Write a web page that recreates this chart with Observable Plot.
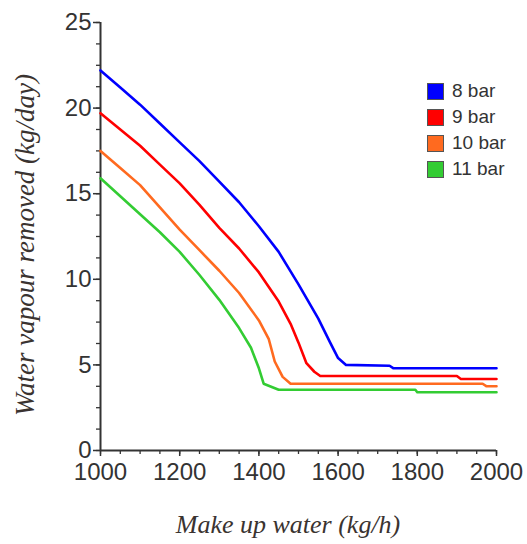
<!DOCTYPE html>
<html>
<head>
<meta charset="utf-8">
<script src="https://cdn.jsdelivr.net/npm/d3@7"></script>
<script src="https://cdn.jsdelivr.net/npm/@observablehq/plot@0.6"></script>
<style>
  html, body { margin: 0; padding: 0; background: #fff; }
  #wrap { position: relative; width: 527px; height: 544px; }
  #legend { position: absolute; left: 427px; top: 78px; font-family: "Liberation Sans", Arial, sans-serif; font-size: 19px; color: #333; }
  .row { display: flex; align-items: center; height: 26px; }
  .sw { width: 15px; height: 15px; border: 1.5px solid #555; margin-right: 8px; box-sizing: content-box; }
</style>
</head>
<body>
<div id="wrap"><div id="legend"></div></div>
<script>
const seriesNames = ["8 bar", "9 bar", "10 bar", "11 bar"];
const seriesColors = ["#0000ff", "#ff0000", "#ff6a1f", "#33cc33"];

const makeUp8  = [1000, 1050, 1100, 1150, 1200, 1250, 1300, 1350, 1400, 1450, 1500, 1550, 1580, 1600, 1620, 1730, 1740, 2000];
const vapour8  = [22.2, 21.2, 20.2, 19.1, 18.0, 16.9, 15.7, 14.5, 13.1, 11.6, 9.7, 7.7, 6.3, 5.4, 5.0, 4.95, 4.8, 4.8];
const makeUp9  = [1000, 1050, 1100, 1150, 1200, 1250, 1300, 1350, 1400, 1450, 1480, 1500, 1520, 1540, 1555, 1900, 1910, 2000];
const vapour9  = [19.7, 18.75, 17.8, 16.7, 15.6, 14.35, 13.0, 11.8, 10.4, 8.7, 7.4, 6.3, 5.1, 4.6, 4.35, 4.35, 4.18, 4.18];
const makeUp10 = [1000, 1050, 1100, 1150, 1200, 1250, 1300, 1350, 1400, 1425, 1440, 1460, 1480, 1965, 1975, 2000];
const vapour10 = [17.5, 16.5, 15.5, 14.2, 12.9, 11.7, 10.5, 9.2, 7.6, 6.5, 5.2, 4.3, 3.9, 3.9, 3.75, 3.75];
const makeUp11 = [1000, 1050, 1100, 1150, 1200, 1250, 1300, 1350, 1380, 1400, 1412, 1450, 1795, 1800, 2000];
const vapour11 = [15.9, 14.85, 13.8, 12.75, 11.6, 10.25, 8.8, 7.15, 6.0, 4.8, 3.9, 3.55, 3.55, 3.4, 3.4];

const xTicks = [1000, 1200, 1400, 1600, 1800, 2000];
const xMinor = d3.range(1000, 2001, 50);
const yTicks = [0, 5, 10, 15, 20, 25];
const yMinor = d3.range(0, 25.01, 1.25);

const xs = [makeUp8, makeUp9, makeUp10, makeUp11];
const ys = [vapour8, vapour9, vapour10, vapour11];
const data = [];
seriesNames.forEach((name, i) => {
  xs[i].forEach((x, j) => data.push({series: name, x, y: ys[i][j]}));
});

const axisColor = "#333";
const chart = Plot.plot({
  width: 527,
  height: 544,
  marginLeft: 100,
  marginRight: 31,
  marginTop: 22,
  marginBottom: 94,
  style: {fontFamily: "'Liberation Sans', Arial, sans-serif", fontSize: "24px", color: axisColor, background: "#fff"},
  x: {domain: [1000, 2000], label: null},
  y: {domain: [0, 25], label: null},
  color: {domain: seriesNames, range: seriesColors},
  marks: [
    Plot.axisX({ticks: xMinor, tickSize: 4, text: null, label: null, stroke: axisColor, strokeWidth: 1.3}),
    Plot.axisX({ticks: xTicks, tickSize: 6, tickPadding: 6, tickFormat: d => String(d), stroke: axisColor, strokeWidth: 1.5, label: null, fontSize: 24, fill: "#333"}),
    Plot.axisY({ticks: yMinor, tickSize: 4, text: null, label: null, stroke: axisColor, strokeWidth: 1.3}),
    Plot.axisY({ticks: yTicks, tickSize: 7, tickPadding: 2, tickFormat: d => String(d), stroke: axisColor, strokeWidth: 1.5, label: null, fontSize: 24, fill: "#333"}),
    Plot.ruleY([0], {stroke: axisColor, strokeWidth: 2}),
    Plot.ruleX([1000], {stroke: axisColor, strokeWidth: 2}),
    Plot.line(data, {x: "x", y: "y", z: "series", stroke: "series", strokeWidth: 2.6, curve: "linear"})
  ]
});

const svg = d3.select(chart);
svg.append("text")
  .attr("x", 288).attr("y", 533)
  .attr("text-anchor", "middle")
  .attr("font-family", "'Liberation Serif', 'Times New Roman', serif")
  .attr("font-style", "italic")
  .attr("font-size", 26)
  .attr("fill", "#3a3330")
  .text("Make up water (kg/h)");
svg.append("text")
  .attr("transform", "translate(34,245) rotate(-90)")
  .attr("text-anchor", "middle")
  .attr("font-family", "'Liberation Serif', 'Times New Roman', serif")
  .attr("font-style", "italic")
  .attr("font-size", 27)
  .attr("fill", "#3a3330")
  .text("Water vapour removed (kg/day)");

document.getElementById("wrap").prepend(chart);
chart.style.position = "absolute";
chart.style.left = "0";
chart.style.top = "0";

const legend = d3.select("#legend");
seriesNames.forEach((name, i) => {
  const row = legend.append("div").attr("class", "row");
  row.append("div").attr("class", "sw").style("background", seriesColors[i]);
  row.append("span").text(name);
});
document.getElementById("legend").style.zIndex = 2;
</script>
</body>
</html>
